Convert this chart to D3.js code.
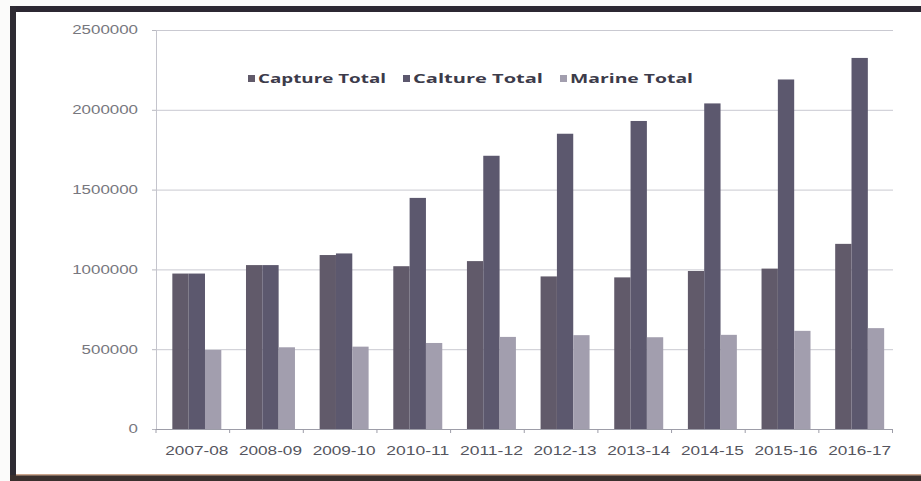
<!DOCTYPE html>
<html><head><meta charset="utf-8">
<script src="https://cdn.jsdelivr.net/npm/d3@7"></script>
<style>
html,body{margin:0;padding:0;background:#fbfbfa;}
svg{display:block;}
</style></head>
<body>
<svg id="chart" width="921" height="481"></svg>
<script>
const categories = ["2007-08","2008-09","2009-10","2010-11","2011-12","2012-13","2013-14","2014-15","2015-16","2016-17"];
const seriesNames = ["Capture Total","Calture Total","Marine Total"];
const captureTotal = [974000,1027000,1090000,1020000,1052000,956000,950000,990000,1005000,1160000];
const caltureTotal = [974000,1027000,1100000,1448000,1712000,1850000,1930000,2040000,2190000,2325000];
const marineTotal  = [495000,512000,516000,539000,577000,588000,575000,590000,615000,632000];
const yTicks = [0,500000,1000000,1500000,2000000,2500000];

const colors = ["#615a6a","#5c586e","#a29eae"];
const series = [captureTotal, caltureTotal, marineTotal];

const svg = d3.select("#chart");

// frame (scanned border)
svg.append("rect").attr("x",0).attr("y",0).attr("width",921).attr("height",481).attr("fill","#fbfbfa");
svg.append("rect").attr("x",16).attr("y",12).attr("width",905).attr("height",463).attr("fill","#ffffff");
svg.append("rect").attr("x",10).attr("y",6).attr("width",911).attr("height",6).attr("fill","#2c2832");
svg.append("rect").attr("x",10).attr("y",6).attr("width",6).attr("height",475).attr("fill","#2e2b33");
svg.append("rect").attr("x",10).attr("y",475).attr("width",911).attr("height",6).attr("fill","#3a302e");
svg.append("rect").attr("x",16).attr("y",474).attr("width",905).attr("height",1.5).attr("fill","#c9a48c");

const plotL = 156, plotR = 893, plotT = 30, plotB = 429;

const y = d3.scaleLinear().domain([0,2500000]).range([plotB, plotT]);
const x0 = d3.scaleBand().domain(categories).range([160, 896.5]).paddingInner(0.335).paddingOuter(0.1675);
const x1 = d3.scaleBand().domain(seriesNames).range([0, x0.bandwidth()]);

// gridlines
const grid = svg.append("g").attr("transform",`translate(${plotL},0)`)
  .call(d3.axisLeft(y).tickValues(yTicks.slice(1)).tickSize(-(plotR-plotL)).tickFormat(""));
grid.select(".domain").remove();
grid.selectAll("line").attr("stroke","#c9c9d1").attr("stroke-width",1);

// y axis
const yAx = svg.append("g").attr("transform",`translate(${plotL},0)`)
  .call(d3.axisLeft(y).tickValues(yTicks).tickSize(4).tickPadding(14).tickFormat(d3.format("d")));
yAx.select(".domain").attr("stroke","#c4c4cc");
yAx.selectAll("line").attr("stroke","#b8b8c0");
yAx.selectAll("text")
  .attr("fill","#77777e").attr("font-family","Liberation Sans, Arial, sans-serif").attr("font-size",12)
  .each(function(d){ const s=String(d); d3.select(this).attr("textLength", s.length*9.4).attr("lengthAdjust","spacingAndGlyphs"); });

// bars
const groups = svg.append("g").selectAll("g").data(categories).join("g")
  .attr("transform", d => `translate(${x0(d)},0)`);
series.forEach((vals, si) => {
  groups.append("rect")
    .attr("x", x1(seriesNames[si]))
    .attr("width", x1.bandwidth())
    .attr("y", (d,i) => y(vals[i]))
    .attr("height", (d,i) => y(0) - y(vals[i]))
    .attr("fill", colors[si]);
});

// x axis line
svg.append("line").attr("x1",plotL).attr("x2",plotR).attr("y1",plotB+0.5).attr("y2",plotB+0.5)
  .attr("stroke","#9d9da8").attr("stroke-width",1.2);
// category boundary ticks
svg.append("g").selectAll("line").data(categories.concat(["__end"])).join("line")
  .attr("x1",(d,i)=> plotL + i*x0.step()).attr("x2",(d,i)=> plotL + i*x0.step())
  .attr("y1",plotB).attr("y2",plotB+4).attr("stroke","#9d9da8");

const xAx = svg.append("g").attr("transform",`translate(0,${plotB})`)
  .call(d3.axisBottom(x0).tickSize(0).tickPadding(17));
xAx.select(".domain").remove();
xAx.selectAll("text")
  .attr("fill","#55555e").attr("font-family","Liberation Sans, Arial, sans-serif").attr("font-size",12)
  .attr("textLength",63).attr("lengthAdjust","spacingAndGlyphs");

// legend
const legX = [248, 403, 560];
const legW = [128, 130, 123];
const leg = svg.append("g");
seriesNames.forEach((n,i)=>{
  leg.append("rect").attr("x",legX[i]).attr("y",75).attr("width",7).attr("height",7).attr("fill",colors[i]);
  leg.append("text").attr("x",legX[i]+10).attr("y",83).text(n)
    .attr("font-family","Open Sans, Liberation Sans, sans-serif").attr("font-weight","bold").attr("font-size",12.5)
    .attr("fill","#3c3b4a").attr("textLength",legW[i]).attr("lengthAdjust","spacingAndGlyphs");
});
</script>
</body></html>
